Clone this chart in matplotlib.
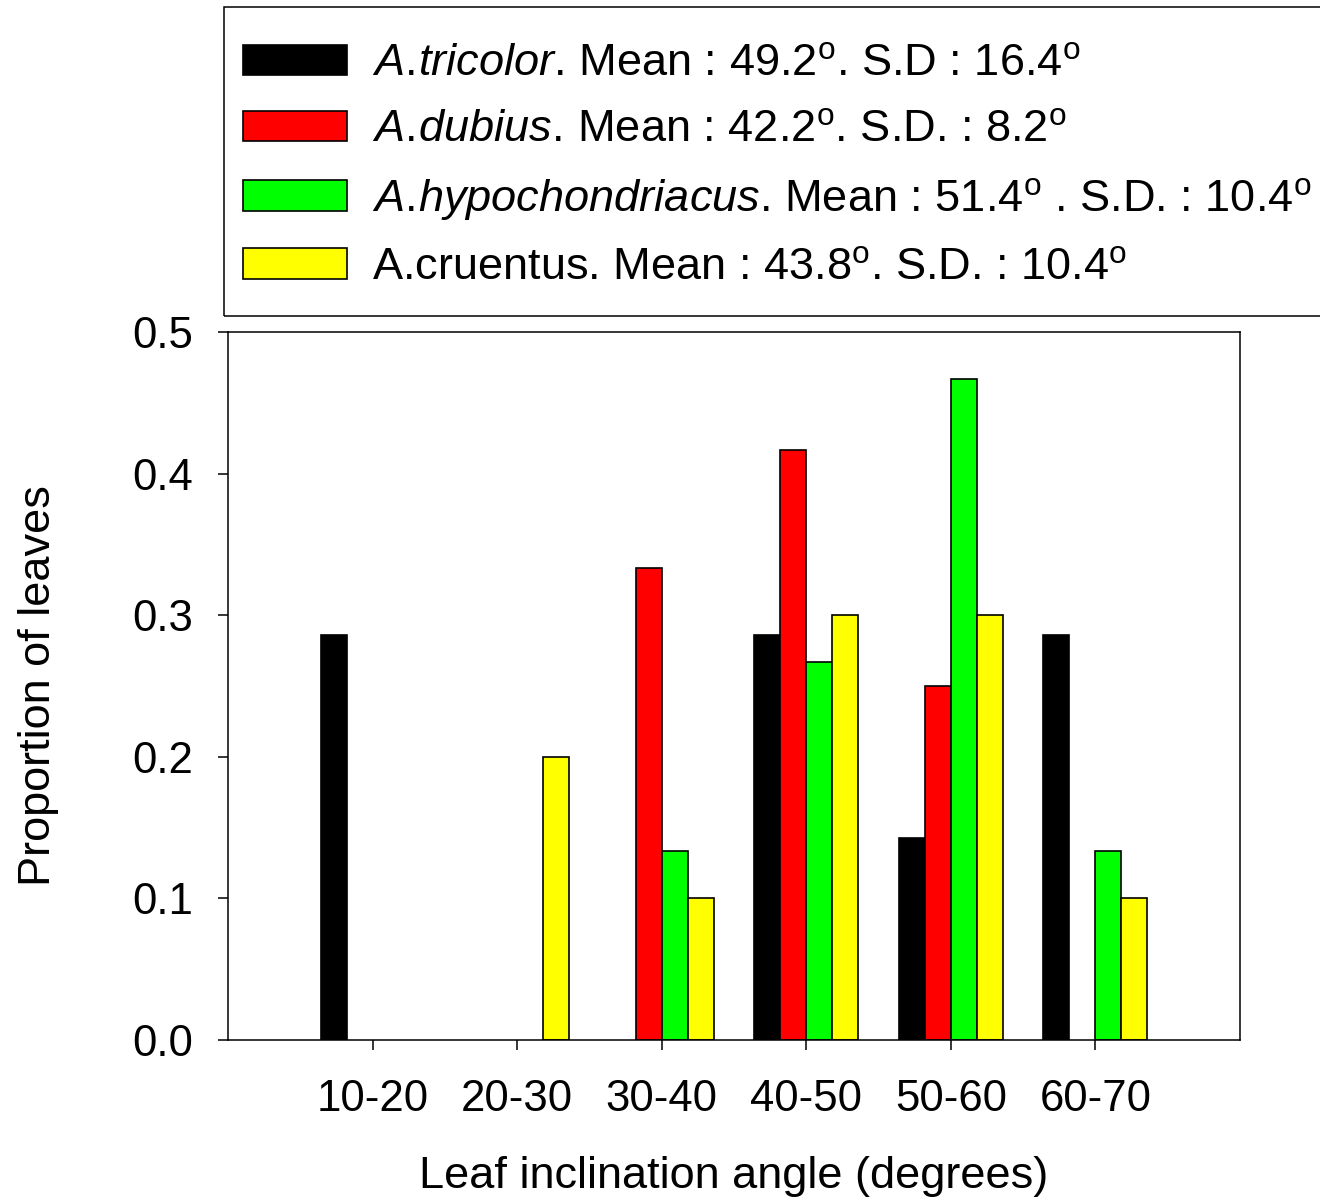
import matplotlib
matplotlib.use("Agg")
import matplotlib.pyplot as plt
from matplotlib.patches import Rectangle
import numpy as np

plt.rcParams['font.family'] = ['Liberation Sans', 'DejaVu Sans']
plt.rcParams['mathtext.fontset'] = 'custom'
plt.rcParams['mathtext.rm'] = 'Liberation Sans'
plt.rcParams['mathtext.it'] = 'Liberation Sans:italic'
plt.rcParams['mathtext.default'] = 'rm'

categories = ["10-20", "20-30", "30-40", "40-50", "50-60", "60-70"]
tricolor = [0.2857, 0.0, 0.0, 0.2857, 0.1429, 0.2857]
dubius = [0.0, 0.0, 0.3333, 0.4167, 0.25, 0.0]
hypochondriacus = [0.0, 0.0, 0.1333, 0.2667, 0.4667, 0.1333]
cruentus = [0.0, 0.2, 0.1, 0.3, 0.3, 0.1]

labels = [
    r"$\it{A.\!tricolor}$. Mean : 49.2$^{\rm o}$. S.D : 16.4$^{\rm o}$",
    r"$\it{A.\!dubius.\!}$ Mean : 42.2$^{\rm o}$. S.D. : 8.2$^{\rm o}$",
    r"$\it{A.\!hypochondriacus}$. Mean : 51.4$^{\rm o}$ . S.D. : 10.4$^{\rm o}$",
    r"A.cruentus. Mean : 43.8$^{\rm o}$. S.D. : 10.4$^{\rm o}$",
]
colors = ["#000000", "#ff0000", "#00ff00", "#ffff00"]
series = [tricolor, dubius, hypochondriacus, cruentus]

W, H = 1320, 1198
fig = plt.figure(figsize=(W/100, H/100), dpi=100)
ax = fig.add_axes([228/W, 1-1040/H, (1240-228)/W, (1040-332)/H])

x = np.arange(1, len(categories)+1)
w = 0.18
handles = []
for i, (vals, c, lab) in enumerate(zip(series, colors, labels)):
    v = np.asarray(vals)
    m = v > 0
    b = ax.bar(x[m] + (i-1.5)*w, v[m], width=w, color=c, edgecolor='black',
               linewidth=1.2, label=lab)
    handles.append(b)

ax.set_xlim(0, 7)
ax.set_ylim(0, 0.5)
ax.set_xticks(x)
ax.set_xticklabels(categories)
ax.set_yticks([0.0, 0.1, 0.2, 0.3, 0.4, 0.5])
ax.set_yticklabels(["0.0", "0.1", "0.2", "0.3", "0.4", "0.5"])
ax.tick_params(axis='both', direction='out', length=7.2, width=1.1,
               labelsize=31.5, top=False, right=False)
ax.tick_params(axis='y', pad=18)
ax.tick_params(axis='x', pad=21)
for s in ax.spines.values():
    s.set_linewidth(1.1)

ax.set_xlabel("Leaf inclination angle (degrees)", fontsize=32.5, labelpad=26)
ax.set_ylabel("Proportion of leaves", fontsize=32.5, labelpad=53)

fs = 32.5
leg = fig.legend(handles=handles, loc='upper left',
                 bbox_to_anchor=(243/W, 1-44/H),
                 bbox_transform=fig.transFigure, borderaxespad=0,
                 fontsize=fs, frameon=False,
                 handlelength=2.30, handleheight=0.665, handletextpad=0.554,
                 labelspacing=0.55, borderpad=0)

frame = Rectangle((224/W, 1-316/H), (1340-224)/W, (316-7)/H,
                  transform=fig.transFigure, fill=False, edgecolor='black',
                  linewidth=1.1, clip_on=False)
fig.add_artist(frame)

fig.savefig("out.png", dpi=100)
